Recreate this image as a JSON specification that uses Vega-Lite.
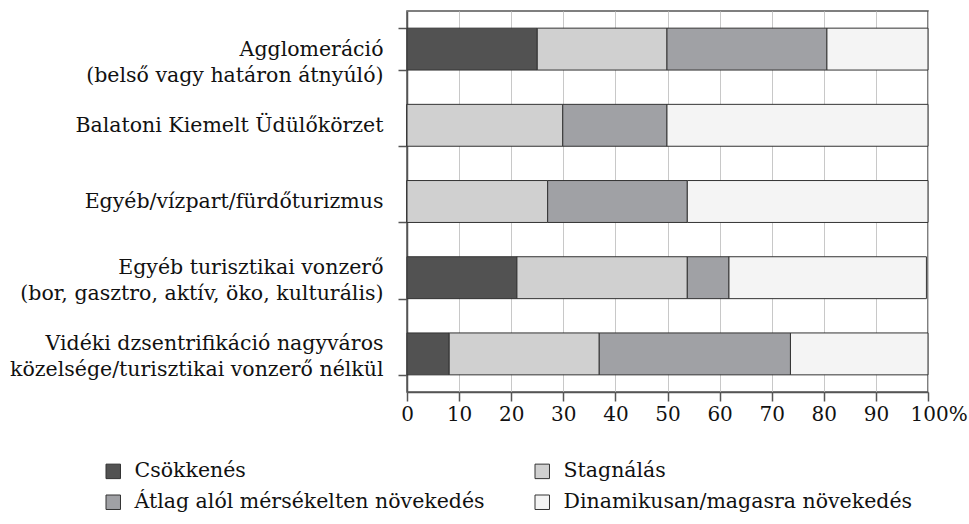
{
  "$schema": "https://vega.github.io/schema/vega-lite/v6.json",
  "autosize": "none",
  "width": 521,
  "height": 381,
  "padding": {"left": 407, "top": 11, "right": 41, "bottom": 132},
  "background": "white",
  "config": {
    "font": "DejaVu Serif",
    "view": {"stroke": "#555555", "strokeWidth": 1.5},
    "axis": {"labelFont": "DejaVu Serif", "labelColor": "#111111", "domainColor": "#555555", "tickColor": "#555555", "domainWidth": 1.5, "tickWidth": 1.5},
    "legend": {"labelFont": "DejaVu Serif"}
  },
  "data": {
    "values": [
      {"cat": "Agglomeráció|(belső vagy határon átnyúló)", "series": "Csökkenés", "o": 1, "value": 25.0},
      {"cat": "Agglomeráció|(belső vagy határon átnyúló)", "series": "Stagnálás", "o": 2, "value": 24.9},
      {"cat": "Agglomeráció|(belső vagy határon átnyúló)", "series": "Átlag alól mérsékelten növekedés", "o": 3, "value": 30.7},
      {"cat": "Agglomeráció|(belső vagy határon átnyúló)", "series": "Dinamikusan/magasra növekedés", "o": 4, "value": 19.4},
      {"cat": "Balatoni Kiemelt Üdülőkörzet", "series": "Csökkenés", "o": 1, "value": 0},
      {"cat": "Balatoni Kiemelt Üdülőkörzet", "series": "Stagnálás", "o": 2, "value": 29.9},
      {"cat": "Balatoni Kiemelt Üdülőkörzet", "series": "Átlag alól mérsékelten növekedés", "o": 3, "value": 20.0},
      {"cat": "Balatoni Kiemelt Üdülőkörzet", "series": "Dinamikusan/magasra növekedés", "o": 4, "value": 50.1},
      {"cat": "Egyéb/vízpart/fürdőturizmus", "series": "Csökkenés", "o": 1, "value": 0},
      {"cat": "Egyéb/vízpart/fürdőturizmus", "series": "Stagnálás", "o": 2, "value": 27.0},
      {"cat": "Egyéb/vízpart/fürdőturizmus", "series": "Átlag alól mérsékelten növekedés", "o": 3, "value": 26.8},
      {"cat": "Egyéb/vízpart/fürdőturizmus", "series": "Dinamikusan/magasra növekedés", "o": 4, "value": 46.2},
      {"cat": "Egyéb turisztikai vonzerő|(bor, gasztro, aktív, öko, kulturális)", "series": "Csökkenés", "o": 1, "value": 21.1},
      {"cat": "Egyéb turisztikai vonzerő|(bor, gasztro, aktív, öko, kulturális)", "series": "Stagnálás", "o": 2, "value": 32.7},
      {"cat": "Egyéb turisztikai vonzerő|(bor, gasztro, aktív, öko, kulturális)", "series": "Átlag alól mérsékelten növekedés", "o": 3, "value": 8.0},
      {"cat": "Egyéb turisztikai vonzerő|(bor, gasztro, aktív, öko, kulturális)", "series": "Dinamikusan/magasra növekedés", "o": 4, "value": 37.9},
      {"cat": "Vidéki dzsentrifikáció nagyváros|közelsége/turisztikai vonzerő nélkül", "series": "Csökkenés", "o": 1, "value": 8.1},
      {"cat": "Vidéki dzsentrifikáció nagyváros|közelsége/turisztikai vonzerő nélkül", "series": "Stagnálás", "o": 2, "value": 28.8},
      {"cat": "Vidéki dzsentrifikáció nagyváros|közelsége/turisztikai vonzerő nélkül", "series": "Átlag alól mérsékelten növekedés", "o": 3, "value": 36.7},
      {"cat": "Vidéki dzsentrifikáció nagyváros|közelsége/turisztikai vonzerő nélkül", "series": "Dinamikusan/magasra növekedés", "o": 4, "value": 26.4}
    ]
  },
  "mark": {"type": "bar", "stroke": "#333333", "strokeWidth": 1},
  "encoding": {
    "y": {
      "field": "cat",
      "type": "nominal",
      "sort": null,
      "title": null,
      "scale": {"paddingInner": 0.45, "paddingOuter": 0.225},
      "axis": {
        "labelExpr": "split(datum.label, '|')",
        "labelFontSize": 20.5,
        "labelLineHeight": 26,
        "labelLimit": 500,
        "tickBand": "extent",
        "tickSize": 9,
        "labelPadding": 15,
        "labelBaseline": {"condition": {"test": "datum.index > 0.6", "value": "bottom"}, "value": "middle"},
        "domain": true
      }
    },
    "x": {
      "field": "value",
      "type": "quantitative",
      "stack": "zero",
      "title": null,
      "scale": {"domain": [0, 100], "nice": false},
      "axis": {
        "values": [0, 10, 20, 30, 40, 50, 60, 70, 80, 90, 100],
        "labelExpr": "datum.value == 100 ? '100%' : datum.label",
        "labelFontSize": 20,
        "tickSize": 9,
        "labelPadding": 3,
        "grid": true,
        "gridColor": "#c8c8c8",
        "gridWidth": 1,
        "labelAlign": {"condition": {"test": "datum.value == 100", "value": "left"}, "value": "center"},
        "labelOffset": {"condition": {"test": "datum.value == 100", "value": -18}, "value": 0},
        "labelFlush": false
      }
    },
    "color": {
      "field": "series",
      "type": "nominal",
      "sort": ["Csökkenés", "Stagnálás", "Átlag alól mérsékelten növekedés", "Dinamikusan/magasra növekedés"],
      "scale": {
        "domain": ["Csökkenés", "Stagnálás", "Átlag alól mérsékelten növekedés", "Dinamikusan/magasra növekedés"],
        "range": ["#525252", "#d0d0d0", "#a0a1a5", "#f4f4f4"]
      },
      "legend": {
        "title": null,
        "orient": "none",
        "direction": "horizontal",
        "legendX": -304,
        "legendY": 450,
        "columns": 2,
        "columnPadding": 47,
        "rowPadding": 10,
        "symbolType": "square",
        "symbolSize": 210,
        "symbolStrokeColor": "#333333",
        "symbolStrokeWidth": 1,
        "symbolOpacity": 1,
        "labelFontSize": 20.5,
        "labelColor": "#111111",
        "labelOffset": 11,
        "labelLimit": 500
      }
    },
    "order": {"field": "o", "type": "quantitative"}
  }
}
